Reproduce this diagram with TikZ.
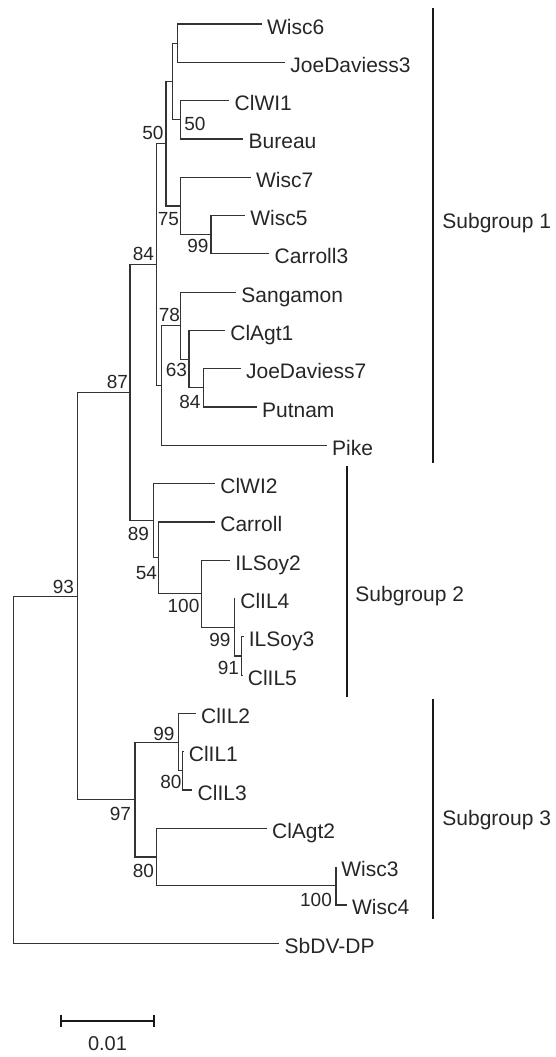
\documentclass[tikz,border=0pt]{standalone}
\usepackage{fontspec}
\setmainfont{Liberation Sans}
\usepackage{tikz}
\usetikzlibrary{positioning, calc}

\begin{document}
\begin{tikzpicture}[x=0.5pt, y=-0.5pt,
    branch/.style={draw=black!80, line width=0.6pt},
    leaf/.style={anchor=west, inner xsep=2.5pt, inner ysep=0pt, text height=10pt, text depth=0pt,
        font=\fontsize{10.5}{12}\selectfont, text=black!85},
    boot/.style={inner sep=0pt, font=\fontsize{9.5}{11}\selectfont, text=black!85},
    bar/.style={draw=black!90, line width=1pt}]
\useasboundingbox (0,0) rectangle (556,1057);

% Leaves, one every 38.3 px from the top
\foreach \nm/\txt/\xe [count=\k from 0] in {
    wisc6/Wisc6/261.7, jd3/JoeDaviess3/285, clwi1/ClWI1/229.3, bureau/Bureau/243.3,
    wisc7/Wisc7/250.7, wisc5/Wisc5/245, carroll3/Carroll3/269.3, sangamon/Sangamon/236,
    clagt1/ClAgt1/225, jd7/JoeDaviess7/240.7, putnam/Putnam/256.7, pike/Pike/326.7,
    clwi2/ClWI2/215, carroll/Carroll/215, ilsoy2/ILSoy2/230, clil4/ClIL4/235,
    ilsoy3/ILSoy3/243.5, clil5/ClIL5/242.5, clil2/ClIL2/195.7, clil1/ClIL1/183.5,
    clil3/ClIL3/192.3, clagt2/ClAgt2/266.7, wisc3/Wisc3/336, wisc4/Wisc4/346.7,
    sbdv/SbDV-DP/279.3}
  \node[leaf] (\nm) at (\xe, {24+38.3*\k}) {\txt};

% Internal nodes
\coordinate (nWJ) at (177.7,43.15);
\coordinate (nCB) at (180.7,119.75);
\coordinate (nA) at (172.7,81.45);
\coordinate (nWC) at (211,234.65);
\coordinate (nW7) at (180.7,205.9);
\coordinate (nB) at (166,143.7);
\coordinate (nJP) at (203.3,387.85);
\coordinate (nCA) at (189,359.1);
\coordinate (nS) at (180.7,325.6);
\coordinate (nP) at (161.7,385.45);
\coordinate (nC) at (156.7,264.6);
\coordinate (nI3) at (241.7,655.95);
\coordinate (nI4) at (234.3,627.2);
\coordinate (nI2) at (201.7,593.7);
\coordinate (nCr) at (158.3,557.8);
\coordinate (nG2) at (153.3,520.7);
\coordinate (nD) at (130,392.65);
\coordinate (nL13) at (182.7,770.85);
\coordinate (nL2) at (178.3,742.1);
\coordinate (nW34) at (336,885.75);
\coordinate (nAg) at (156.7,857);
\coordinate (nG3) at (135,799.55);
\coordinate (nE) at (77.3,596.1);
\coordinate (root) at (13.3,769.65);

% Branches
\foreach \p/\c in {nWJ/wisc6, nWJ/jd3, nCB/clwi1, nCB/bureau, nA/nWJ, nA/nCB,
    nWC/wisc5, nWC/carroll3, nW7/wisc7, nW7/nWC, nB/nA, nB/nW7,
    nJP/jd7, nJP/putnam, nCA/clagt1, nCA/nJP, nS/sangamon, nS/nCA, nP/nS, nP/pike,
    nC/nB, nC/nP,
    nI3/ilsoy3, nI3/clil5, nI4/clil4, nI4/nI3, nI2/ilsoy2, nI2/nI4,
    nCr/carroll, nCr/nI2, nG2/clwi2, nG2/nCr,
    nD/nC, nD/nG2,
    nL13/clil1, nL13/clil3, nL2/clil2, nL2/nL13, nW34/wisc3, nW34/wisc4,
    nAg/clagt2, nAg/nW34, nG3/nL2, nG3/nAg,
    nE/nD, nE/nG3, root/nE, root/sbdv}
  \draw[branch] (\p) |- (\c);

% Bootstrap values
\foreach \nm/\v/\x/\y in {b1/50/195/123.5, b2/50/153/132.5, b3/75/168.5/219.5,
    b4/99/198/246, b5/84/143.5/253.5, b6/78/169.5/315, b7/63/176.5/370,
    b8/84/190/401.5, b9/87/117.5/381.5, b10/89/138.5/533.5, b11/54/146.5/573.5,
    b12/100/183.5/605.5, b13/99/220/640, b14/91/228.5/667.5, b15/93/63.5/586.5,
    b16/97/120.5/813.5, b17/99/164/733.5, b18/80/171/781.5, b19/80/143.5/871,
    b20/100/316/899.5}
  \node[boot] (\nm) at (\x,\y) {\v};

% Subgroup bars
\coordinate (s1top) at (433.3,8.3);   \coordinate (s1bot) at (433.3,463.3);
\coordinate (s2top) at (346.5,466);   \coordinate (s2bot) at (346.5,696.7);
\coordinate (s3top) at (433.3,699.3); \coordinate (s3bot) at (433.3,919.3);
\draw[bar] (s1top) -- (s1bot);
\draw[bar] (s2top) -- (s2bot);
\draw[bar] (s3top) -- (s3bot);
\node[leaf, inner xsep=0pt] (sub1) at (442,218.3) {Subgroup 1};
\node[leaf, inner xsep=0pt] (sub2) at (355,591.7) {Subgroup 2};
\node[leaf, inner xsep=0pt] (sub3) at (442,815) {Subgroup 3};

% Scale bar
\coordinate (sbl) at (61,1020.7);
\coordinate (sbr) at (154,1020.7);
\draw[bar] (sbl) -- (sbr);
\draw[bar] (sbl) ++(0,-6) -- ++(0,12);
\draw[bar] (sbr) ++(0,-6) -- ++(0,12);
\node[boot, font=\fontsize{10}{12}\selectfont] (scale) at (107.5,1044) {0.01};
\end{tikzpicture}
\end{document}
